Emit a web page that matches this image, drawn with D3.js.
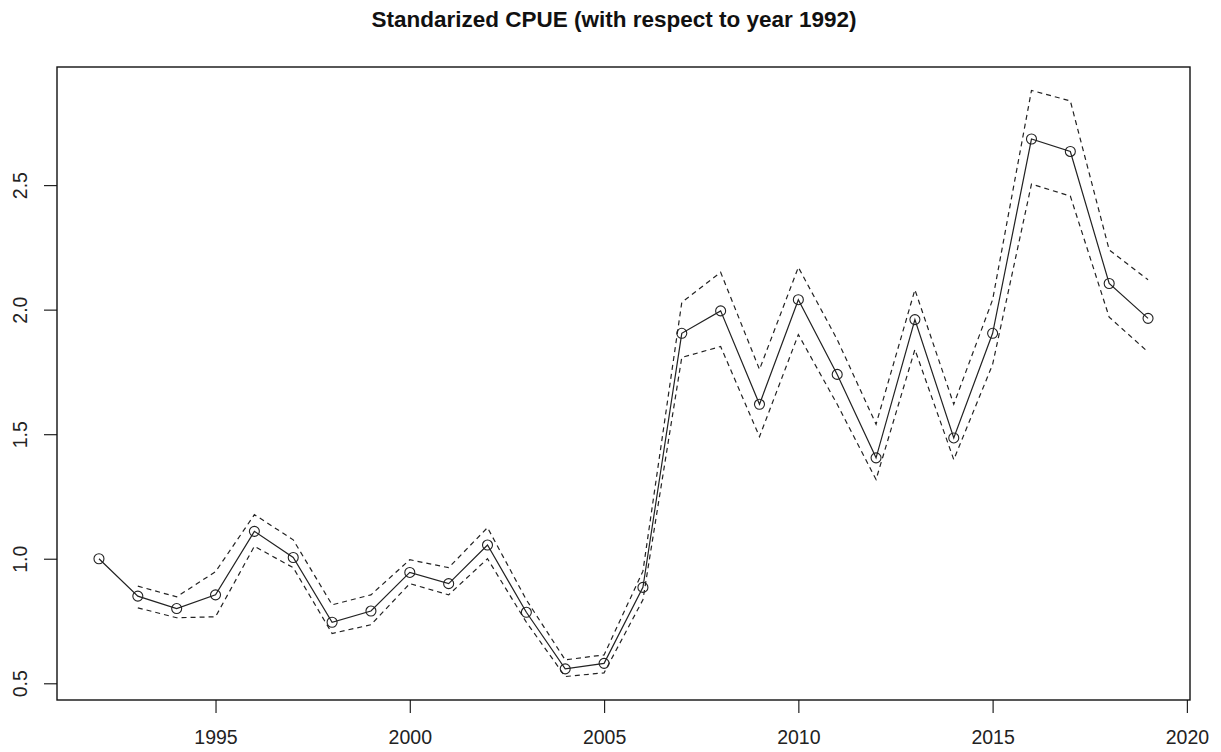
<!DOCTYPE html>
<html lang="en">
<head>
    <meta charset="UTF-8">
    <title>Standarized CPUE</title>
    <script src="https://d3js.org/d3.v7.min.js"></script>
    <style>
        body { margin: 0; background: #fff; }
        text { font-family: "Liberation Sans", Arial, sans-serif; }
    </style>
</head>
<body>

<div id="my_dataviz"></div>

<script>
    // Years and standardized CPUE with its confidence band
    const years = d3.range(1992, 2020);
    const cpue = [1.0, 0.85, 0.80, 0.855, 1.11, 1.005, 0.745, 0.79, 0.945, 0.90,
                  1.055, 0.785, 0.558, 0.58, 0.885, 1.905, 1.995, 1.62, 2.04, 1.74,
                  1.405, 1.96, 1.485, 1.905, 2.685, 2.635, 2.105, 1.965];
    // upper / lower limits (none for the reference year 1992)
    const upper = [null, 0.89, 0.847, 0.948, 1.177, 1.076, 0.815, 0.855, 0.996, 0.964,
                   1.125, 0.835, 0.594, 0.614, 0.95, 2.029, 2.15, 1.76, 2.17, 1.88,
                   1.54, 2.08, 1.62, 2.04, 2.88, 2.838, 2.24, 2.12];
    const lower = [null, 0.803, 0.763, 0.767, 1.05, 0.964, 0.70, 0.735, 0.90, 0.855,
                   1.0, 0.745, 0.527, 0.542, 0.835, 1.808, 1.852, 1.49, 1.90, 1.62,
                   1.318, 1.84, 1.398, 1.78, 2.504, 2.456, 1.97, 1.83];

    const xTicks = [1995, 2000, 2005, 2010, 2015, 2020];
    const yTicks = [0.5, 1.0, 1.5, 2.0, 2.5];

    const W = 1221, H = 752;
    const margins = {top: 67, right: 31, bottom: 52, left: 57};
    const width = W - margins.left - margins.right,
          height = H - margins.top - margins.bottom;

    const svg = d3.select("#my_dataviz")
        .append("svg")
            .attr("width", W)
            .attr("height", H);

    const g = svg.append("g")
        .attr("transform", `translate(${margins.left},${margins.top})`);

    // R style: 4% padding on each side of the data range
    const xr = d3.extent(years), xp = (xr[1] - xr[0]) * 0.04;
    const x = d3.scaleLinear()
        .domain([xr[0] - xp, xr[1] + xp])
        .range([0, width]);

    const allY = cpue.concat(upper.filter(v => v != null), lower.filter(v => v != null));
    const yr = d3.extent(allY), yp = (yr[1] - yr[0]) * 0.04;
    const y = d3.scaleLinear()
        .domain([yr[0] - yp, yr[1] + yp])
        .range([height, 0]);

    // axes
    const xAxis = g.append("g")
        .attr("transform", `translate(0, ${height})`)
        .call(d3.axisBottom(x).tickValues(xTicks).tickFormat(d3.format("d")).tickSize(13).tickPadding(17));
    xAxis.select(".domain").remove();
    xAxis.selectAll("line").attr("stroke", "#222").attr("stroke-width", 1.2);
    xAxis.selectAll("text").attr("font-size", 19.5).attr("fill", "#222");

    const yAxis = g.append("g")
        .call(d3.axisLeft(y).tickValues(yTicks).tickFormat(d3.format(".1f")).tickSize(13));
    yAxis.select(".domain").remove();
    yAxis.selectAll("line").attr("stroke", "#222").attr("stroke-width", 1.2);

    // rotate labels around their own tick position
    yAxis.selectAll(".tick text")
        .attr("font-size", 19.5).attr("fill", "#222")
        .attr("text-anchor", "middle")
        .attr("transform", "rotate(-90)")
        .attr("x", 0)
        .attr("y", -37)
        .attr("dy", "0.35em");

    // dashed confidence limits
    const band = d3.line()
        .defined(d => d.v != null)
        .x(d => x(d.year))
        .y(d => y(d.v));

    [upper, lower].forEach(arr => {
        g.append("path")
            .datum(years.map((yr, i) => ({year: yr, v: arr[i]})))
            .attr("d", band)
            .attr("fill", "none")
            .attr("stroke", "#222")
            .attr("stroke-width", 1.2)
            .attr("stroke-dasharray", "5,4");
    });

    // main line
    const pts = years.map((yr, i) => ({year: yr, v: cpue[i]}));
    g.append("path")
        .datum(pts)
        .attr("d", band)
        .attr("fill", "none")
        .attr("stroke", "#222")
        .attr("stroke-width", 1.2);

    g.selectAll("circle.pt")
        .data(pts)
        .join("circle")
            .attr("class", "pt")
            .attr("cx", d => x(d.year))
            .attr("cy", d => y(d.v))
            .attr("r", 5)
            .attr("fill", "none")
            .attr("stroke", "#222")
            .attr("stroke-width", 1.1);

    // box
    g.append("rect")
        .attr("width", width)
        .attr("height", height)
        .attr("fill", "none")
        .attr("stroke", "#111")
        .attr("stroke-width", 1.4);

    // title
    svg.append("text")
        .attr("x", 614)
        .attr("y", 27)
        .attr("text-anchor", "middle")
        .attr("font-size", 22.5)
        .attr("font-weight", "bold")
        .attr("fill", "#111")
        .text("Standarized CPUE (with respect to year 1992)");
</script>

</body>
</html>
